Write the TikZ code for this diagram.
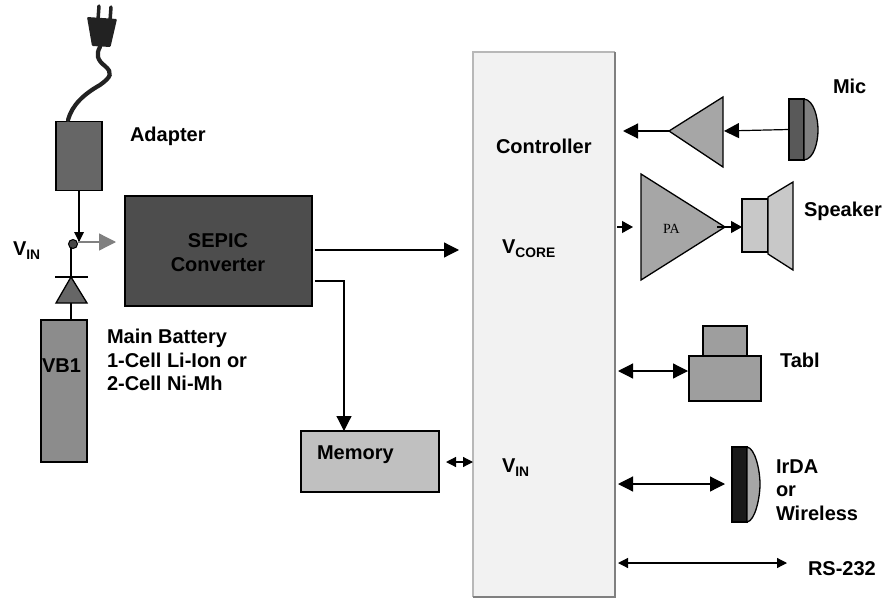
\documentclass[tikz,border=0pt]{standalone}
\usepackage{fontspec}
\setmainfont{Liberation Sans}
\newfontfamily\paserif{Liberation Serif}
\usetikzlibrary{arrows.meta}
\newcommand{\vsubs}[1]{V\raisebox{-4.5pt}{\fontsize{13.8}{14}\selectfont #1}}
\tikzset{
  lbl/.style={anchor=base west,inner sep=0pt,outer sep=0pt,font=\fontsize{20}{24}\selectfont\bfseries,text=black},
  blk/.style={draw=black,line width=1.3pt,inner sep=0pt,outer sep=0pt},
  wire/.style={draw=black,line width=1.2pt},
  bigtip/.style={-{Triangle[length=15pt,width=15pt]}},
  smalltip/.style={-{Triangle[length=11pt,width=12pt]}},
  bothbig/.style={{Triangle[length=15pt,width=15pt]}-{Triangle[length=15pt,width=15pt]}},
  bothsmall/.style={{Triangle[length=10pt,width=10pt]}-{Triangle[length=10pt,width=10pt]}},
  pt/.style={inner sep=0pt,outer sep=0pt,minimum size=0pt}
}
\definecolor{adaptergray}{HTML}{666666}
\definecolor{sepicgray}{HTML}{4D4D4D}
\definecolor{battgray}{HTML}{8C8C8C}
\definecolor{memgray}{HTML}{C0C0C0}
\definecolor{ampgray}{HTML}{A6A6A6}
\definecolor{spkgray}{HTML}{C8C8C8}
\definecolor{ctrlfill}{HTML}{F2F2F2}
\definecolor{plugblack}{HTML}{222222}
\begin{document}
\begin{tikzpicture}[x=1pt,y=-1pt]
\useasboundingbox (0,0) rectangle (885,599);
% controller with bevel
\node[inner sep=0pt,outer sep=0pt,fill=ctrlfill,minimum width=142pt,minimum height=545pt] (ctrl) at (544,324.5) {};
\draw[line width=2.5pt,color=black!28] (ctrl.south west) -- (ctrl.north west) -- (ctrl.north east);
\draw[line width=2.5pt,color=black!50] (ctrl.north east) -- (ctrl.south east) -- (ctrl.south west);
% plug
\coordinate (cableTop) at (100,47);
\node[blk,fill=adaptergray,minimum width=46pt,minimum height=69pt] (adapter) at (79,156) {};
\draw[line width=4.2pt,color=plugblack,line cap=round] (cableTop) .. controls (96,54) and (97,60) .. (105,66) .. controls (113,73) and (111,77) .. (100,85) .. controls (84,94) and (72,105) .. (68,120);
\draw[line width=3.5pt,color=plugblack,line cap=round] (99,6) -- (98,20);
\draw[line width=3.5pt,color=plugblack,line cap=round] (111,7) -- (110,21);
\fill[color=plugblack,rounded corners=1pt] (87,17) -- (117,19) -- (110.5,47) -- (92,46) -- cycle;
% dot, diode, battery
\coordinate (dotAbove) at (79,241.5);
\coordinate (grayEnd) at (116,242);
\coordinate (dotGrayStart) at (78,242);
\node[draw=black,line width=1pt,fill=black!72,circle,inner sep=0pt,minimum size=9pt,outer sep=0pt] (dot) at (73,244) {};
\node[blk,line width=2pt,fill=battgray,minimum width=46pt,minimum height=142pt] (batt) at (63.5,391) {};
\coordinate (dioTip) at (71,277);
\coordinate (dotFoot) at (71,248);
\coordinate (dioL) at (56,303);
\coordinate (dioR) at (87,303);
\coordinate (barL) at (55,277);
\coordinate (barR) at (88,277);
\coordinate (dioBase) at (71,303);
\coordinate (battTop) at (71,320);
\draw[wire] (adapter.south -| dotAbove) -- (dotAbove);
\fill[black] (74,232) -- (84,232) -- (79,242) -- cycle;
\draw[line width=1.3pt,color=black!50,-{Triangle[length=17pt,width=17pt]}] (dotGrayStart) -- (grayEnd);
\draw[wire] (dotFoot) -- (dioTip);
\draw[wire] (dioBase) -- (battTop);
\draw[blk,fill=adaptergray] (dioTip) -- (dioR) -- (dioL) -- cycle;
\draw[wire] (barL) -- (barR);
% SEPIC
\node[blk,fill=sepicgray,minimum width=187pt,minimum height=110pt] (sepic) at (218.5,251) {};
\node[anchor=base,inner sep=0pt,text=black,font=\fontsize{20}{24}\selectfont\bfseries] (sepicA) at (218,247) {SEPIC};
\node[anchor=base,inner sep=0pt,text=black,font=\fontsize{20}{24}\selectfont\bfseries] (sepicB) at (218,271) {Converter};
% memory
\node[blk,fill=memgray,minimum width=138pt,minimum height=61pt] (mem) at (370,461.5) {};
\coordinate (a1s) at (315,250); \coordinate (a1e) at (459,250);
\draw[wire,bigtip] (a1s) -- (a1e);
\coordinate (a2s) at (315,281); \coordinate (a2b) at (344,281); \coordinate (a2e) at (344,431);
\draw[wire,bigtip] (a2s) -- (a2b) -- (a2e);
\coordinate (m1) at (446,462); \coordinate (m2) at (473,462);
\draw[wire,bothsmall] (m1) -- (m2);
% mic section
\coordinate (ampApex) at (669,131);
\coordinate (ampTop) at (723,97);
\coordinate (ampBot) at (723,167);
\draw[blk,fill=ampgray] (ampApex) -- (ampTop) -- (ampBot) -- cycle;
\coordinate (a3e) at (623,131);
\draw[wire,bigtip] (ampApex) -- (a3e);
\node[blk,fill=black!65,minimum width=15pt,minimum height=61pt] (micR) at (796.5,129.5) {};
\draw[blk,fill=black!50] (micR.north east) .. controls (814,100) and (818,118) .. (818,130) .. controls (818,142) and (814,159) .. (micR.south east) -- cycle;
\coordinate (a4e) at (724,131);
\draw[wire,bigtip] (micR.west) -- (a4e);
% PA
\coordinate (paTop) at (641,174);
\coordinate (paBot) at (641,280);
\coordinate (paApex) at (725,227);
\draw[blk,fill=ampgray] (paTop) -- (paApex) -- (paBot) -- cycle;
\node[anchor=base west,inner sep=0pt,font=\fontsize{14}{16}\selectfont\paserif] (pa) at (663,233) {PA};
\coordinate (a5s) at (617,227); \coordinate (a5e) at (633,227);
\draw[wire,smalltip] (a5s) -- (a5e);
\coordinate (a6s) at (717,227); \coordinate (a6e) at (742,227);
\draw[wire,smalltip] (a6s) -- (a6e);
\node[blk,fill=spkgray,minimum width=26pt,minimum height=53pt] (spk) at (755,225.5) {};
\draw[blk,fill=spkgray] (768,197) -- (793,182) -- (793,270) -- (768,254) -- cycle;
% Tabl
\node[blk,fill=black!38,minimum width=44pt,minimum height=30pt] (tabTop) at (725,341) {};
\node[blk,fill=black!38,minimum width=72pt,minimum height=45pt] (tabBot) at (725,378.5) {};
\coordinate (t1) at (618,371); \coordinate (t2) at (688,371);
\draw[wire,bothbig] (t1) -- (t2);
% IrDA
\node[blk,fill=black!90,minimum width=15pt,minimum height=75pt] (ir) at (739.5,484.5) {};
\draw[blk,fill=ampgray] (ir.north east) .. controls (755,448) and (760,470) .. (760,484) .. controls (760,498) and (755,521) .. (ir.south east) -- cycle;
\coordinate (i1) at (618,484); \coordinate (i2) at (725,484);
\draw[wire,bothbig] (i1) -- (i2);
% RS-232
\coordinate (r1) at (618,563); \coordinate (r2) at (787,563);
\draw[wire,bothsmall] (r1) -- (r2);
% labels
\node[lbl] (lAdapter) at (130,141) {Adapter};
\node[lbl] (lController) at (496,153) {Controller};
\node[lbl] (lCore) at (502,253) {\vsubs{CORE}};
\node[lbl] (lVin) at (13,255) {\vsubs{IN}};
\node[lbl] (lVin2) at (502,472) {\vsubs{IN}};
\node[lbl] (lB1) at (107,343) {Main Battery};
\node[lbl] (lB2) at (107,367) {1-Cell Li-Ion or};
\node[lbl] (lB3) at (107,390) {2-Cell Ni-Mh};
\node[lbl] (lVB) at (42,372) {VB1};
\node[lbl] (lMem) at (317,459) {Memory};
\node[lbl] (lMic) at (833,94) {Mic};
\node[lbl] (lSpk) at (804,216) {Speaker};
\node[lbl] (lTabl) at (780,367) {Tabl};
\node[lbl] (lIr1) at (776,473) {IrDA};
\node[lbl] (lIr2) at (776,496) {or};
\node[lbl] (lIr3) at (776,520) {Wireless};
\node[lbl] (lRS) at (808,575) {RS-232};
\end{tikzpicture}
\end{document}
